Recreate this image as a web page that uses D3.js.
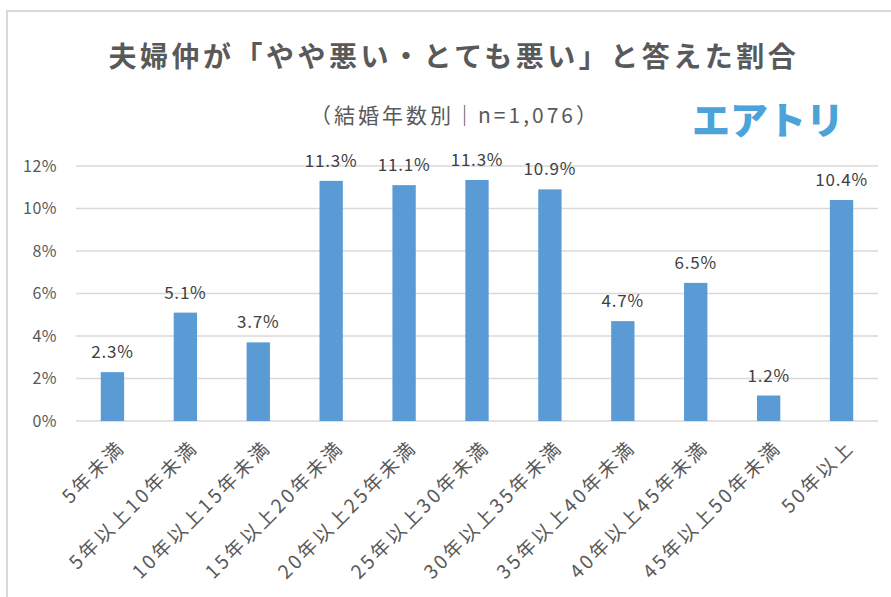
<!DOCTYPE html>
<html>
<head>
<meta charset="utf-8">
<script src="https://cdn.jsdelivr.net/npm/d3@7"></script>
<style>
  body { margin: 0; background: #ffffff; }
  text { font-family: "Noto Sans CJK JP", "Noto Sans", sans-serif; }
</style>
</head>
<body>
<div id="chart"></div>
<script>
// data
const categories = ["5年未満", "5年以上10年未満", "10年以上15年未満", "15年以上20年未満",
    "20年以上25年未満", "25年以上30年未満", "30年以上35年未満", "35年以上40年未満",
    "40年以上45年未満", "45年以上50年未満", "50年以上"];
const values = [2.3, 5.1, 3.7, 11.3, 11.1, 11.34, 10.9, 4.7, 6.5, 1.2, 10.4];
const yTicks = [0, 2, 4, 6, 8, 10, 12];
const titleText = "夫婦仲が「やや悪い・とても悪い」と答えた割合";
const subtitleText = "（結婚年数別｜n=1,076）";
const logoText = "エアトリ";

const config = {
    width: 891,
    height: 597,
    margin: { top: 166, right: 13, bottom: 176, left: 76 }
};
const innerW = config.width - config.margin.left - config.margin.right;
const innerH = config.height - config.margin.top - config.margin.bottom;

const svg = d3.select("#chart").append("svg")
    .attr("width", config.width)
    .attr("height", config.height);

// outer frame (runs off the right and bottom edges)
svg.append("rect")
    .attr("x", 7).attr("y", 11)
    .attr("width", 900).attr("height", 620)
    .attr("fill", "none")
    .attr("stroke", "#d9d9d9")
    .attr("stroke-width", 2);

// titles
svg.append("text")
    .attr("x", 454).attr("y", 67)
    .attr("text-anchor", "middle")
    .attr("font-size", 28)
    .attr("font-weight", "bold")
    .attr("letter-spacing", 3.5)
    .attr("fill", "#595959")
    .text(titleText);

svg.append("text")
    .attr("x", 455).attr("y", 123)
    .attr("text-anchor", "middle")
    .attr("font-size", 21)
    .attr("letter-spacing", 3)
    .attr("fill", "#595959")
    .text(subtitleText);

svg.append("text")
    .attr("x", 768).attr("y", 134)
    .attr("text-anchor", "middle")
    .attr("font-size", 38)
    .attr("font-weight", 900)
    .attr("fill", "#4ba3da")
    .text(logoText);

const g = svg.append("g")
    .attr("transform", `translate(${config.margin.left},${config.margin.top})`);

const x = d3.scaleBand()
    .domain(categories)
    .range([0, innerW])
    .paddingInner(0.68)
    .paddingOuter(0.34);

const y = d3.scaleLinear()
    .domain([0, 12])
    .range([innerH, 0]);

// gridlines
g.selectAll(".grid")
    .data(yTicks)
    .join("line")
    .attr("class", "grid")
    .attr("x1", 0).attr("x2", innerW)
    .attr("y1", d => y(d)).attr("y2", d => y(d))
    .attr("stroke", "#d9d9d9")
    .attr("stroke-width", 1.3);

// y axis labels
const yAxis = d3.axisLeft(y).tickValues(yTicks).tickFormat(d => d + "%").tickSize(0).tickPadding(19);
g.append("g")
    .attr("class", "axis axis-y")
    .call(yAxis)
    .call(a => a.select(".domain").remove())
    .selectAll("text")
    .attr("font-size", 16)
    .attr("letter-spacing", 0.5)
    .attr("fill", "#595959");

// x axis labels
const xAxis = d3.axisBottom(x).tickSize(0).tickPadding(14);
g.append("g")
    .attr("class", "axis axis-x")
    .attr("transform", `translate(0,${innerH})`)
    .call(xAxis)
    .call(a => a.select(".domain").remove())
    .selectAll("text")
    .attr("font-size", 19)
    .attr("letter-spacing", 3)
    .attr("fill", "#595959")
    .style("text-anchor", "end")
    .attr("dx", "-0.5em")
    .attr("dy", "0.8em")
    .attr("transform", "rotate(-45)");

// bars
g.selectAll(".bar")
    .data(values)
    .join("rect")
    .attr("class", "bar")
    .attr("x", (d, i) => x(categories[i]))
    .attr("y", d => y(d))
    .attr("width", x.bandwidth())
    .attr("height", d => innerH - y(d))
    .attr("fill", "#5b9bd5");

// value labels
g.selectAll(".val")
    .data(values)
    .join("text")
    .attr("class", "val")
    .attr("x", (d, i) => x(categories[i]) + x.bandwidth() / 2)
    .attr("y", d => y(d) - 14)
    .attr("text-anchor", "middle")
    .attr("font-size", 17)
    .attr("letter-spacing", 0.8)
    .attr("fill", "#404040")
    .text(d => d3.format(".1f")(d) + "%");
</script>
</body>
</html>
